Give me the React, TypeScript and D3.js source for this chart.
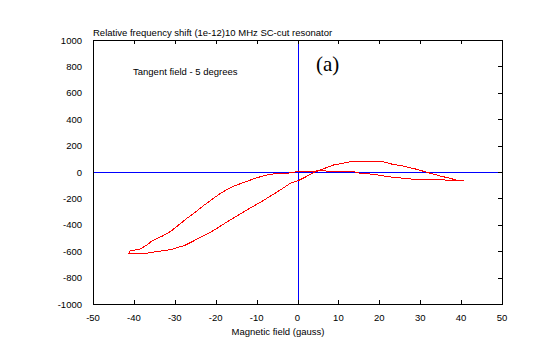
import React from "react";
import * as d3 from "d3";

const W = 540;
const H = 355;

const xTicks = [-50, -40, -30, -20, -10, 0, 10, 20, 30, 40, 50];
const yTicks = [1000, 800, 600, 400, 200, 0, -200, -400, -600, -800, -1000];

// Return branch (from +40 back to -41)
const upperX = [40.6, 38, 34, 30, 26, 22, 18.5, 15.3, 13.3, 5, 0, -2.5, -5, -7, -9, -11, -13, -15, -17, -19, -21, -23, -25, -27, -29, -31, -33, -35.5, -36.8, -38.5, -40.9, -41.3];
const upperY = [-61, -66, -55, -60, -48, -35, -17, -10, 6, 8, 3, -10, -13, -18, -35, -55, -78, -100, -128, -165, -210, -255, -305, -350, -400, -450, -485, -520, -553, -583, -598, -620];
// Forward branch (from -41 to +40)
const lowerX = [-41.3, -37.2, -35.2, -31, -27.5, -24, -21, -16.5, -12.4, -8.3, -4.2, -1.8, 0.3, 4.3, 8.8, 12.9, 15.5, 20.5, 22.7, 25.9, 29.2, 31.6, 34.9, 37.3, 39.4, 40.6];
const lowerY = [-621, -617, -607, -588, -555, -500, -452, -364, -288, -215, -136, -86, -64, 0, 53, 78, 82, 82, 62, 45, 20, -2, -30, -48, -66, -61];

const title = "Relative frequency shift (1e-12)10 MHz SC-cut resonator";
const xLabel = "Magnetic field (gauss)";
const note = "Tangent field - 5 degrees";
const panel = "(a)";

export default function App() {
  const left = 93, right = 502, top = 40, bottom = 304;
  const x = d3.scaleLinear().domain([-50, 50]).range([left, right]);
  const y = d3.scaleLinear().domain([-1000, 1000]).range([bottom, top]);

  const pts: [number, number][] = [];
  upperX.forEach((v, i) => pts.push([v, upperY[i]]));
  lowerX.forEach((v, i) => pts.push([v, lowerY[i]]));
  const line = d3
    .line<[number, number]>()
    .x((d) => x(d[0]))
    .y((d) => y(d[1]));

  const font = "'Liberation Sans', Arial, sans-serif";
  const r = (v: number) => Math.round(v) + 0.5;
  const fs = 9.5;

  return (
    <svg
      width={W}
      height={H}
      style={{ position: "absolute", left: 0, top: 0, background: "#fff" }}
      fontFamily={font}
    >
      <rect x={0} y={0} width={W} height={H} fill="#fff" />
      <text x={93} y={36} fontSize={fs} fill="#000">
        {title}
      </text>
      <text x={133} y={75} fontSize={fs} fill="#000">
        {note}
      </text>
      <text x={316} y={71} fontSize={21} fill="#000" fontFamily="'Liberation Serif', 'Times New Roman', serif">
        {panel}
      </text>

      {/* zero lines */}
      <line x1={left} x2={right} y1={r(y(0))} y2={r(y(0))} stroke="#0000ff" strokeWidth={1} shapeRendering="crispEdges" />
      <line x1={r(x(0))} x2={r(x(0))} y1={top} y2={bottom} stroke="#0000ff" strokeWidth={1} shapeRendering="crispEdges" />

      {/* curve */}
      <path d={line(pts) || ""} fill="none" stroke="#ff0000" strokeWidth={1} shapeRendering="crispEdges" />

      {/* frame */}
      <rect x={r(left)} y={r(top)} width={Math.round(right - left)} height={Math.round(bottom - top)} fill="none" stroke="#000" strokeWidth={1} shapeRendering="crispEdges" />

      {xTicks.map((t) => (
        <g key={"x" + t}>
          <line x1={r(x(t))} x2={r(x(t))} y1={bottom} y2={bottom - 4} stroke="#000" shapeRendering="crispEdges" />
          <line x1={r(x(t))} x2={r(x(t))} y1={top} y2={top + 4} stroke="#000" shapeRendering="crispEdges" />
          <text x={x(t)} y={321} fontSize={fs} textAnchor="middle" fill="#000">
            {t}
          </text>
        </g>
      ))}
      {yTicks.map((t) => (
        <g key={"y" + t}>
          <line x1={right} x2={right - 4} y1={r(y(t))} y2={r(y(t))} stroke="#000" shapeRendering="crispEdges" />
          <text x={82} y={y(t) + 3.5} fontSize={fs} textAnchor="end" fill="#000">
            {t}
          </text>
        </g>
      ))}
      <text x={278} y={335} fontSize={fs} textAnchor="middle" fill="#000">
        {xLabel}
      </text>
    </svg>
  );
}
